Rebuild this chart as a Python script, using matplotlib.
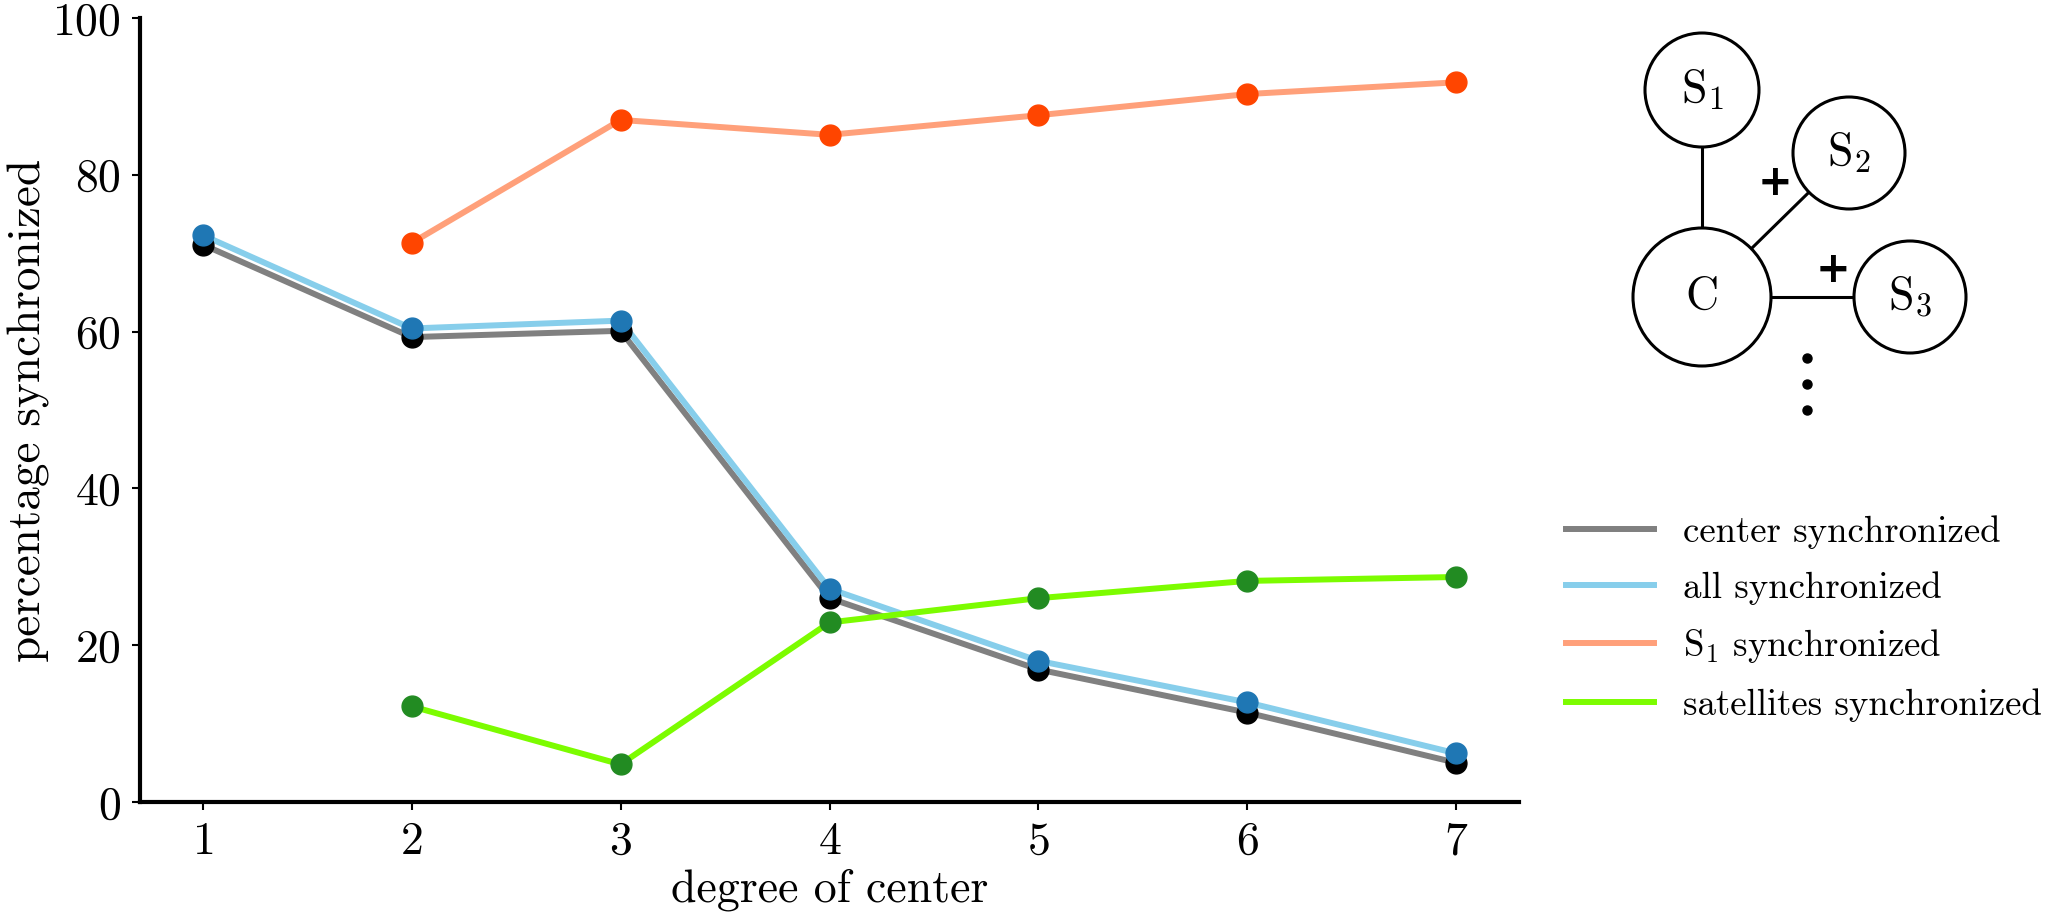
import matplotlib
matplotlib.use("Agg")
import matplotlib.pyplot as plt
from matplotlib.patches import Circle

plt.rcParams['font.family'] = ['cmr10', 'DejaVu Serif']
plt.rcParams['mathtext.fontset'] = 'cm'
plt.rcParams['axes.unicode_minus'] = False
plt.rcParams['axes.formatter.use_mathtext'] = True

degree = [1, 2, 3, 4, 5, 6, 7]
center_sync = [71.1, 59.3, 60.1, 26.0, 16.9, 11.4, 5.0]
all_sync = [72.3, 60.4, 61.4, 27.2, 18.0, 12.7, 6.2]
degree_sat = [2, 3, 4, 5, 6, 7]
s1_sync = [71.3, 87.0, 85.1, 87.6, 90.3, 91.8]
sat_sync = [12.2, 4.8, 22.9, 26.0, 28.2, 28.7]

W, H = 2047, 917
fig = plt.figure(figsize=(W / 100, H / 100), dpi=100)
ax = fig.add_axes([140 / W, 1 - 802 / H, (1519 - 140) / W, (802 - 18) / H])

lw = 4.3
ms = 15
series = [
    (degree, center_sync, 'grey', 'black', 'center synchronized'),
    (degree, all_sync, '#87ceeb', '#1f77b4', 'all synchronized'),
    (degree_sat, s1_sync, '#ffa07a', '#ff4500', r'S$_1$ synchronized'),
    (degree_sat, sat_sync, '#7cfc00', '#228b22', 'satellites synchronized'),
]
handles = []
for xs, ys, lc, mc, lab in series:
    h, = ax.plot(xs, ys, color=lc, lw=lw, label=lab, zorder=2)
    ax.plot(xs, ys, 'o', color=mc, ms=ms, zorder=3)
    handles.append(h)

ax.set_xlim(0.7, 7.3)
ax.set_ylim(0, 100)
ax.set_xticks(degree)
ax.set_yticks([0, 20, 40, 60, 80, 100])
for s in ['top', 'right']:
    ax.spines[s].set_visible(False)
for s in ['left', 'bottom']:
    ax.spines[s].set_linewidth(3)
ax.tick_params(labelsize=33, length=6, width=1.5, pad=8)
ax.set_xlabel('degree of center', fontsize=33, labelpad=4)
ax.set_ylabel('percentage synchronized', fontsize=34)
ax.yaxis.set_label_coords(-0.065, 0.5)

fig.legend(handles=handles, loc='upper left', bbox_to_anchor=(1566 / W, 1 - 515 / H),
           frameon=False, fontsize=26.5, handlelength=2.39, handletextpad=0.79,
           labelspacing=0.61, borderpad=0, borderaxespad=0)

# small network sketch, drawn in pixel coordinates
dax = fig.add_axes([0, 0, 1, 1])
dax.set_xlim(0, W)
dax.set_ylim(H, 0)
dax.axis('off')
dax.patch.set_alpha(0)

nodes = {
    'S1': (1702, 90, 57, r'S$_1$'),
    'S2': (1849, 153, 56, r'S$_2$'),
    'C': (1702, 297, 69, 'C'),
    'S3': (1910, 297, 56, r'S$_3$'),
}
for key, (cx, cy, r, txt) in nodes.items():
    dax.add_patch(Circle((cx, cy), r, facecolor='white', edgecolor='black', lw=2.2, zorder=3))
    dax.text(cx, cy, txt, ha='center', va='center', fontsize=33, zorder=4)
for a, b in [('C', 'S1'), ('C', 'S2'), ('C', 'S3')]:
    x1, y1 = nodes[a][:2]
    x2, y2 = nodes[b][:2]
    dax.plot([x1, x2], [y1, y2], color='black', lw=2.2, zorder=2)
dax.text(1775, 183, '+', ha='center', va='center', fontsize=30, fontweight='bold',
         family='DejaVu Sans')
dax.text(1833, 270, '+', ha='center', va='center', fontsize=30, fontweight='bold',
         family='DejaVu Sans')
dax.plot([1807, 1807, 1807], [358, 384, 410], 'o', color='black', ms=6.5)

fig.savefig('out.png', dpi=100)
